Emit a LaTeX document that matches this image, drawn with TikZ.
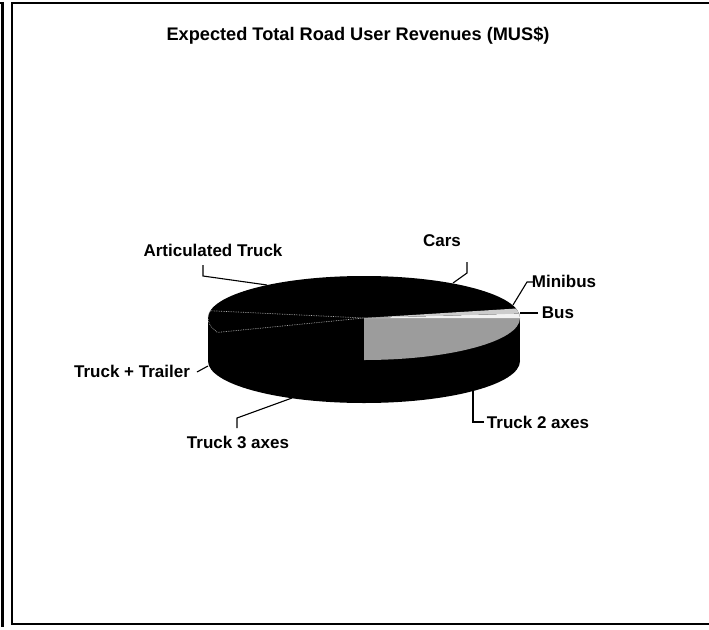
\documentclass[tikz,border=0pt]{standalone}
\usepackage{fontspec}
\setmainfont{Liberation Sans}
\begin{document}
\begin{tikzpicture}[x=1pt,y=-1pt,
  lbl/.style={font=\bfseries\fontsize{17}{20}\selectfont, inner sep=0pt},
  ttl/.style={font=\bfseries\fontsize{18.2}{22}\selectfont, inner sep=0pt},
  lead/.style={line width=1.1pt},
  pie/.style={x radius=156, y radius=42}]
\useasboundingbox (0,0) rectangle (709,629);
\fill[white] (0,0) rectangle (709,629);
% frame
\draw[line width=2.4pt] (0,3) -- (2.5,3) -- (2.5,627);
\draw[line width=1.2pt] (709,3) -- (12,3) -- (12,624) -- (709,624);
% title
\node[ttl] (title) at (358,36) {Expected Total Road User Revenues (MUS\$)};
% pie body
\coordinate (c) at (364,318);
\fill[black] (364,361) ellipse [pie];
\fill[black] (208,318) rectangle (520,361);
\fill[black] (c) ellipse [pie];
% Truck 2 axes top face (grey)
\fill[gray!78] (c) -- (364,360) arc[start angle=90, end angle=0, pie] -- cycle;
% Bus and Minibus slivers
\fill[gray!10] (c) -- (520,318) arc[start angle=0, end angle=-6, pie] -- cycle;
\fill[gray!40] (c) -- (519.1,313.6) arc[start angle=-6, end angle=-13, pie] -- cycle;
% faint slice outline on the left
\draw[gray!60, densely dotted, line width=0.7pt] (c) -- (217.4,332.4) arc[start angle=160, end angle=190, pie] -- cycle;
% labels
\node[lbl] (lArt) at (213,250) {Articulated Truck};
\node[lbl] (lCars) at (442,241) {Cars};
\node[lbl] (lMini) at (564,281) {Minibus};
\node[lbl] (lBus) at (558,313) {Bus};
\node[lbl] (lT2) at (538,422) {Truck 2 axes};
\node[lbl] (lT3) at (238,442) {Truck 3 axes};
\node[lbl] (lTT) at (132,371) {Truck + Trailer};
% leader points
\coordinate (aArt0) at (203,265); \coordinate (aArt1) at (203,276); \coordinate (pArt) at (267,285);
\coordinate (aCars0) at (467,262); \coordinate (aCars1) at (467,273); \coordinate (pCars) at (453,283);
\coordinate (aMini0) at (533,282); \coordinate (aMini1) at (527,282); \coordinate (pMini) at (513,305);
\coordinate (aBus0) at (538,313); \coordinate (pBus) at (520,313);
\coordinate (aT20) at (484,422); \coordinate (aT21) at (473,422); \coordinate (pT2) at (473,390);
\coordinate (aT30) at (237,428); \coordinate (aT31) at (237,418); \coordinate (pT3) at (292,398);
\coordinate (aTT0) at (197,372); \coordinate (pTT) at (208,366);
% leaders
\draw[lead] (aArt0) -- (aArt1) -- (pArt);
\draw[lead] (aCars0) -- (aCars1) -- (pCars);
\draw[lead] (aMini0) -- (aMini1) -- (pMini);
\draw[lead] (aBus0) -- (pBus);
\draw[lead] (aT20) -- (aT21) -- (pT2);
\draw[lead] (aT30) -- (aT31) -- (pT3);
\draw[lead] (aTT0) -- (pTT);
\end{tikzpicture}
\end{document}
